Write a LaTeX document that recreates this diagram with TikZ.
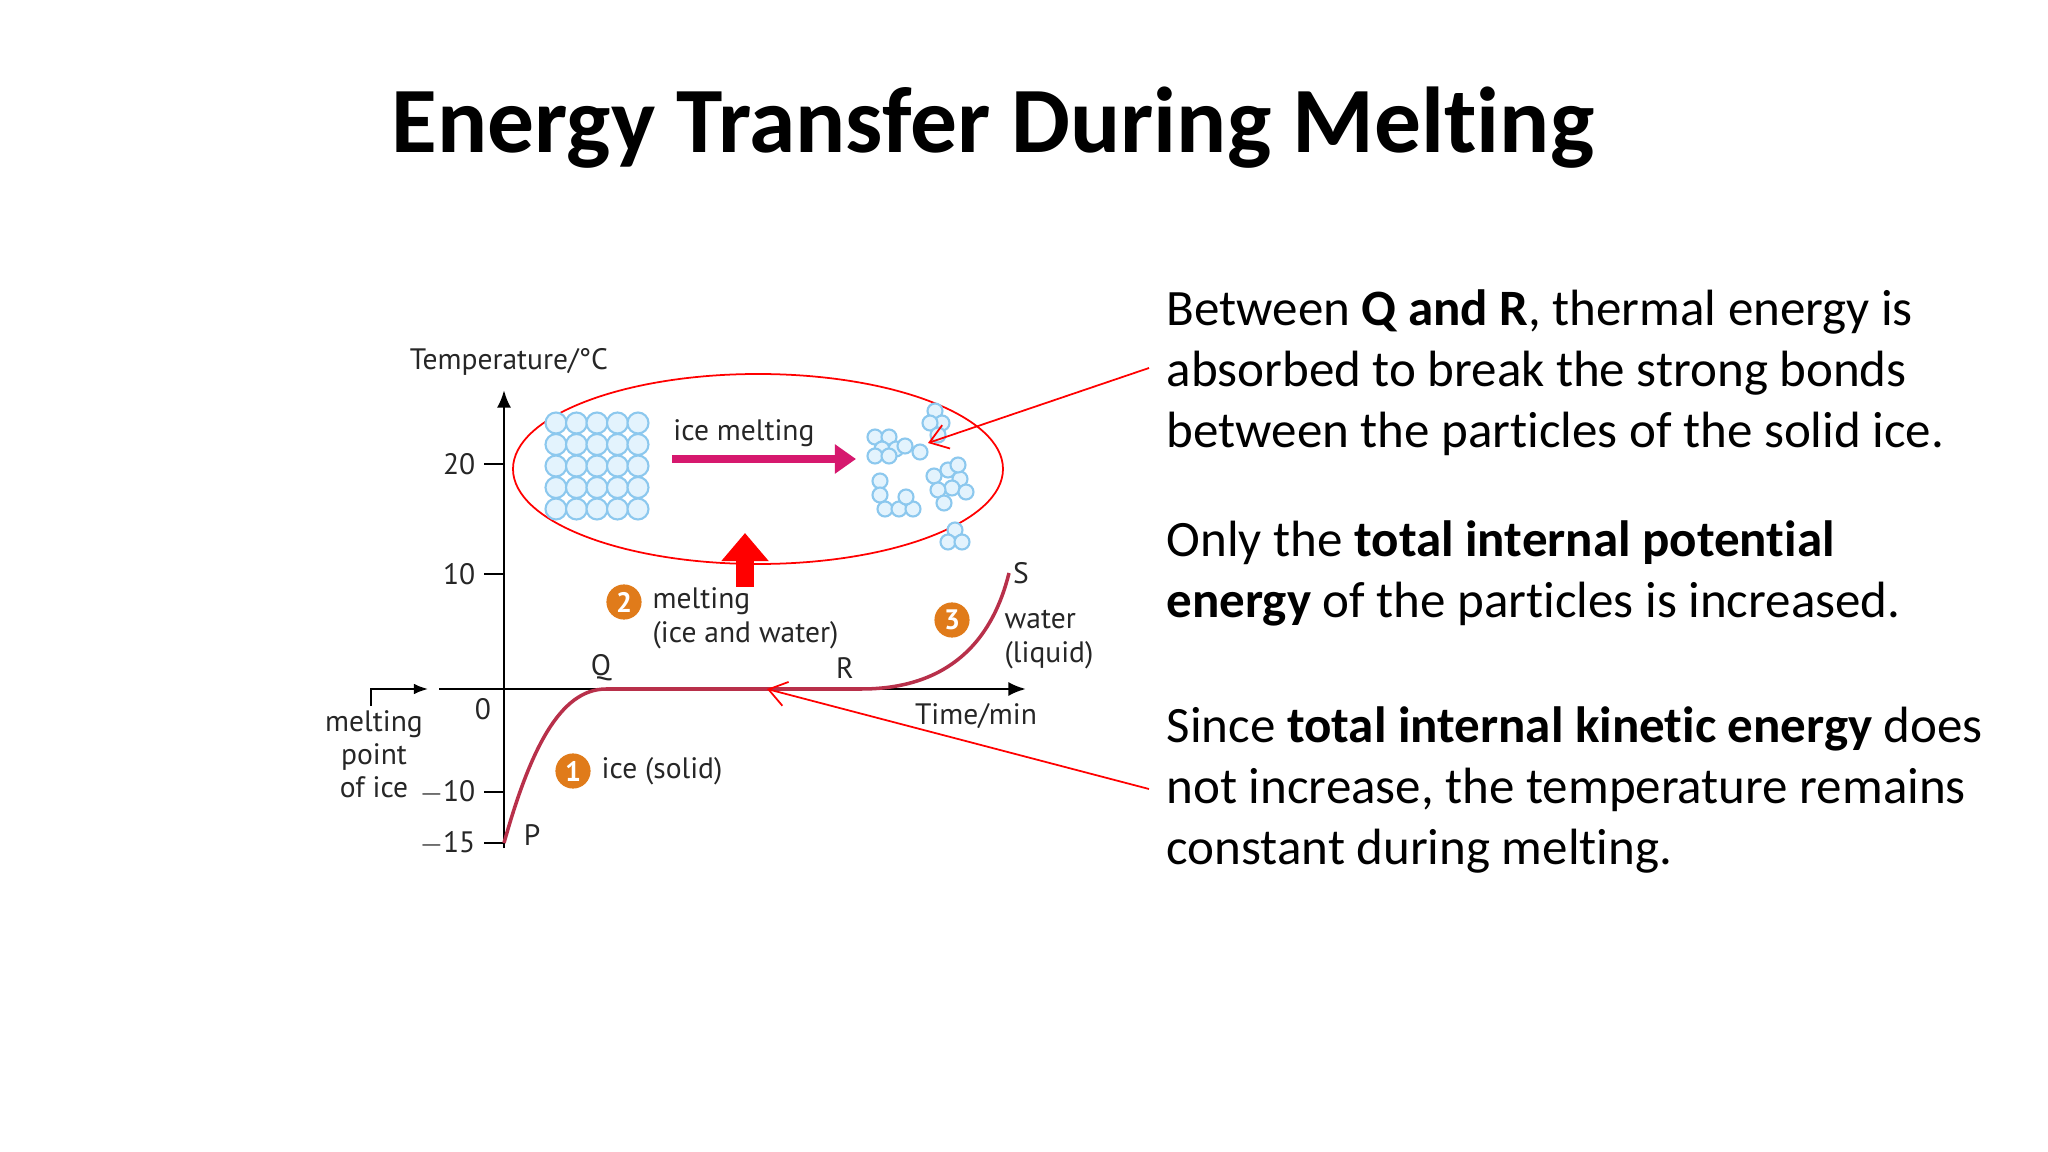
\documentclass[tikz,border=0pt]{standalone}
\usepackage{fontspec}
\setmainfont{Carlito}[Ligatures=NoCommon]
\newfontfamily\gfont{PT Sans}
\usetikzlibrary{arrows.meta}
\definecolor{curvec}{HTML}{B8304A}
\definecolor{badge}{HTML}{E07B1A}
\definecolor{mag}{HTML}{D6186E}
\definecolor{icec}{HTML}{8CC8EE}
\definecolor{icefill}{HTML}{E3F3FD}
\tikzset{
  glab/.style={font=\gfont\fontsize{8.4}{9.4}\selectfont, inner sep=0pt, text=black!85},
  bdg/.style={circle, fill=badge, text=white, font=\gfont\bfseries\fontsize{8}{8}\selectfont, minimum size=10pt, inner sep=0pt},
  mol/.style={draw=icec, fill=icefill, line width=0.6pt},
  body/.style={font=\fontsize{14.5}{17.4}\selectfont, align=left, anchor=north west, inner sep=0pt},
  callout/.style={red, line width=0.5pt, -{Straight Barb[length=5pt,width=7pt]}},
  axis/.style={line width=0.8pt, -{Latex[length=5pt,width=4pt]}}
}
\begin{document}
\begin{tikzpicture}[x=0.01cm,y=-0.01cm]
\useasboundingbox[fill=white] (0,0) rectangle (2048,1152);
\node[font=\bfseries\fontsize{26.6}{32}\selectfont] (title) at (993,128) {Energy Transfer During Melting};
% right texts
\node[body] (t1) at (1166,289) {Between \textbf{Q and R}, thermal energy is\\absorbed to break the strong bonds\\between the particles of the solid ice.};
\node[body] (t2) at (1166,520) {Only the \textbf{total internal potential}\\\textbf{energy} of the particles is increased.};
\node[body] (t3) at (1166,706) {Since \textbf{total internal kinetic energy} does\\not increase, the temperature remains\\constant during melting.};
\coordinate (c1) at (1149,368);
\coordinate (c2) at (1149,789);
% axes
\draw[axis] (504,848) -- (504,390) coordinate (ytop);
\draw[axis] (439,689) -- (1026,689) coordinate (xend);
\foreach \y/\l in {464/20,574/10,792/{$-$10},843/{$-$15}}{
  \draw[line width=0.8pt] (484,\y) -- (504,\y);
  \node[glab,anchor=east] at (476,\y) {\l};
}
\node[glab] (ylab) at (509,362) {Temperature/°C};
\node[glab] (olab) at (483,709) {0};
% curve
\draw[curvec,line width=1pt] (504,843) .. controls (530,750) and (560,689) .. (606,689) -- (861,689) .. controls (940,689) and (990,650) .. (1009,573);
\node[glab] (P) at (532,835) {P};
\node[glab] (Q) at (601,668) {Q};
\node[glab] (R) at (845,668) {R};
\node[glab] (S) at (1021,573) {S};
\node[glab] (time) at (976,716) {Time/min};
% melting point label
\node[glab,align=center] (mp) at (374,754) {melting\\point\\of ice};
\coordinate (mpa) at (428,689);
\draw[line width=0.5pt,-{Latex[length=4pt,width=3pt]}] (371,706) |- (mpa);
% badges
\node[bdg] (b1) at (573,771) {1};
\node[glab,anchor=west] (l1) at (601,771) {ice (solid)};
\node[bdg] (b2) at (624,602) {2};
\node[glab,anchor=west] (l2) at (652,601) {melting};
\node[glab,anchor=west] (l2b) at (652,635) {(ice and water)};
\node[bdg] (b3) at (952,620) {3};
\node[glab,anchor=west] (l3) at (1004,619) {water};
\node[glab,anchor=west] (l3b) at (1004,655) {(liquid)};
% ellipse
\draw[red,line width=0.5pt] (758,469) ellipse [x radius=245, y radius=95];
% fat red arrow
\draw[red,line width=5pt,-{Triangle[length=8pt,width=13pt]}] (745,587) -- (745,533);
% magenta arrow
\draw[mag,line width=2.2pt,-{Triangle[length=6pt,width=8pt]}] (672,459) -- (856,459);
\node[glab] (im) at (744,433) {ice melting};
% solid lattice
\foreach \i in {0,...,4}{\foreach \j in {0,...,4}{
  \draw[mol] (556+\i*20.5,423+\j*21.5) circle (10.5);}}
% liquid clusters
\foreach \p in {(875,437),(889,437),(882,449),(896,449),(875,456),(889,456),(905,446),(920,452),(935,411),(942,423),(930,423),(938,435)}{\draw[mol] \p circle (7.5);}
\foreach \p in {(880,481),(880,495),(885,509),(899,509),(913,509),(906,497)}{\draw[mol] \p circle (7.5);}
\foreach \p in {(934,476),(948,470),(960,479),(952,488),(966,492),(938,490),(944,503),(958,465)}{\draw[mol] \p circle (7.5);}
\foreach \p in {(955,530),(948,542),(962,542)}{\draw[mol] \p circle (7.5);}
% callouts
\coordinate (ca) at (928,443);
\coordinate (cb) at (767,689);
\draw[callout] (c1) -- (ca);
\draw[callout] (c2) -- (cb);
\end{tikzpicture}
\end{document}
